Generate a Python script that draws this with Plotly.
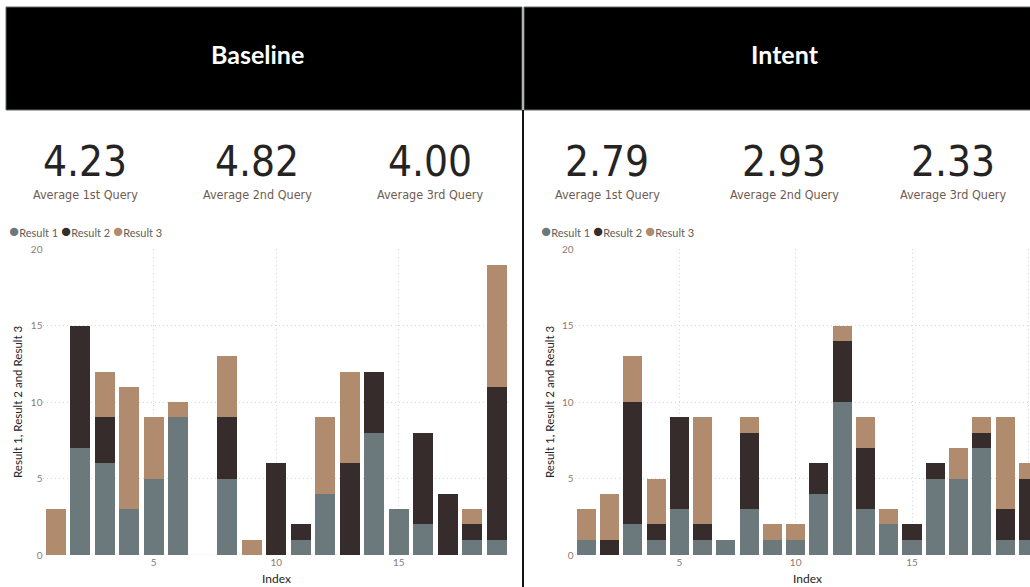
import plotly.graph_objects as go

# ---- data -------------------------------------------------------------
series_names = ["Result 1", "Result 2", "Result 3"]
series_colors = ["#6B797C", "#362C2B", "#B08B6E"]

baseline_index = list(range(1, 20))
baseline_r1 = [0, 7, 6, 3, 5, 9, 0, 5, 0, 0, 1, 4, 0, 8, 3, 2, 0, 1, 1]
baseline_r2 = [0, 8, 3, 0, 0, 0, 0, 4, 0, 6, 1, 0, 6, 4, 0, 6, 4, 1, 10]
baseline_r3 = [3, 0, 3, 8, 4, 1, 0, 4, 1, 0, 0, 5, 6, 0, 0, 0, 0, 1, 8]

intent_index = list(range(1, 21))
intent_r1 = [1, 0, 2, 1, 3, 1, 1, 3, 1, 1, 4, 10, 3, 2, 1, 5, 5, 7, 1, 1]
intent_r2 = [0, 1, 8, 1, 6, 1, 0, 5, 0, 0, 2, 4, 4, 0, 1, 1, 0, 1, 2, 4]
intent_r3 = [2, 3, 3, 3, 0, 7, 0, 1, 1, 1, 0, 1, 2, 1, 0, 0, 2, 1, 6, 1]

panel_titles = ["Baseline", "Intent"]
kpi_labels = ["Average 1st Query", "Average 2nd Query", "Average 3rd Query"]


def nonblank_mean(values):
    vals = [v for v in values if v]
    return sum(vals) / len(vals)


baseline_kpis = [nonblank_mean(s) for s in (baseline_r1, baseline_r2, baseline_r3)]
intent_kpis = [nonblank_mean(s) for s in (intent_r1, intent_r2, intent_r3)]

# ---- geometry helpers (pixel -> paper) ---------------------------------
W, H = 1030, 587


def px(x):
    return x / W


def py(y):
    return 1 - y / H


TEXT_DARK = "#252423"
TEXT_SOFT = "#6E5C52"
TICK_COLOR = "#8C7B70"
GRID = "#D6D6D6"
GRID_DASH = "1px,3px"
UI_FONT = "Segoe UI, Lato, Noto Sans, sans-serif"
NUM_FONT = "DejaVu Sans Condensed, Roboto, sans-serif"

fig = go.Figure()

panels = [
    dict(idx=baseline_index, data=(baseline_r1, baseline_r2, baseline_r3),
         xa="x", ya="y"),
    dict(idx=intent_index, data=(intent_r1, intent_r2, intent_r3),
         xa="x2", ya="y2"),
]
for p in panels:
    for name, color, vals in zip(series_names, series_colors, p["data"]):
        fig.add_trace(go.Bar(
            x=p["idx"], y=vals, name=name, marker_color=color,
            marker_line_width=0, xaxis=p["xa"], yaxis=p["ya"],
            showlegend=False,
        ))

y_dom = [py(555), py(249.3)]
axis_common = dict(
    showgrid=True, gridcolor=GRID, griddash=GRID_DASH, gridwidth=1,
    zeroline=False, showline=False, ticks="", automargin=False,
    tickfont=dict(family=UI_FONT, size=10, color=TICK_COLOR),
)

fig.update_layout(
    template="none",
    width=W, height=H,
    margin=dict(l=0, r=0, t=0, b=0, pad=0, autoexpand=False),
    paper_bgcolor="white", plot_bgcolor="white",
    barmode="stack", bargap=0.18,
    showlegend=False,
    xaxis=dict(domain=[px(43.45), px(509)], range=[0.5, 19.5],
               tick0=0, dtick=5, anchor="y", **axis_common),
    yaxis=dict(domain=y_dom, range=[0, 20], dtick=5, anchor="x",
               **axis_common),
    xaxis2=dict(domain=[px(574.6), 1.0], range=[0.5, 20.07],
                tick0=0, dtick=5, anchor="y2", **axis_common),
    yaxis2=dict(domain=y_dom, range=[0, 20], dtick=5, anchor="x2",
                **axis_common),
)

# zero gridline (dotted) for both panels
for xr, yr in (("x", "y"), ("x2", "y2")):
    fig.add_shape(type="line", xref=f"{xr} domain", yref=yr, x0=0, x1=1,
                  y0=0, y1=0, line=dict(color=GRID, width=1, dash=GRID_DASH),
                  layer="below")

# ---- header blocks ------------------------------------------------------
fig.add_shape(type="rect", xref="paper", yref="paper",
              x0=px(6), x1=px(522), y0=py(110), y1=py(7),
              fillcolor="black", line=dict(color="#5E6A6B", width=1))
fig.add_shape(type="rect", xref="paper", yref="paper",
              x0=px(524), x1=px(1045), y0=py(110), y1=py(7),
              fillcolor="black", line=dict(color="#5E6A6B", width=1))
fig.add_shape(type="line", xref="paper", yref="paper",
              x0=px(523), x1=px(523), y0=py(110), y1=py(590),
              line=dict(color="#111111", width=2))

annotations = []
for title, cx in zip(panel_titles, (257, 785)):
    annotations.append(dict(
        text=title, x=px(cx), y=py(54), xref="paper", yref="paper",
        xanchor="center", yanchor="middle", showarrow=False,
        font=dict(family="Lato, Open Sans, sans-serif", size=25,
                  color="white", weight="bold"),
    ))

# ---- KPI cards ----------------------------------------------------------
kpi_sets = [(baseline_kpis, (85, 257, 430)), (intent_kpis, (607, 784, 953))]
for values, centers in kpi_sets:
    for val, label, cx in zip(values, kpi_labels, centers):
        annotations.append(dict(
            text=f"{val:.2f}", x=px(cx), y=py(161), xref="paper", yref="paper",
            xanchor="center", yanchor="middle", showarrow=False,
            font=dict(family=NUM_FONT, size=42, color=TEXT_DARK),
        ))
        annotations.append(dict(
            text=label, x=px(cx), y=py(195), xref="paper", yref="paper",
            xanchor="center", yanchor="middle", showarrow=False,
            font=dict(family=NUM_FONT, size=12.5, color=TEXT_SOFT),
        ))

# ---- legends (circle markers + names) ----------------------------------
legend_text = " ".join(
    f"<span style='color:{c};font-size:17px'>●</span>{n}"
    for n, c in zip(series_names, series_colors)
)
for lx in (7, 539):
    annotations.append(dict(
        text=legend_text, x=px(lx), y=py(231), xref="paper", yref="paper",
        xanchor="left", yanchor="middle", showarrow=False,
        font=dict(family=UI_FONT, size=11, color="#605E5C"),
    ))

# ---- axis titles --------------------------------------------------------
for ax_x, cx in ((17, 276), (549, 807)):
    annotations.append(dict(
        text="Result 1, Result 2 and Result 3", x=px(ax_x), y=py(402),
        xref="paper", yref="paper", xanchor="center", yanchor="middle",
        textangle=-90, showarrow=False,
        font=dict(family=UI_FONT, size=11.5, color=TEXT_DARK),
    ))
    annotations.append(dict(
        text="Index", x=px(cx), y=py(578), xref="paper", yref="paper",
        xanchor="center", yanchor="middle", showarrow=False,
        font=dict(family=UI_FONT, size=12, color=TEXT_DARK),
    ))

fig.update_layout(annotations=annotations)

fig.write_html("out.html")
